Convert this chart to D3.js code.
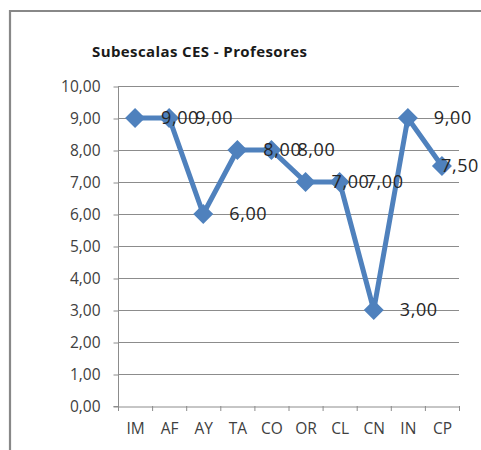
<!DOCTYPE html>
<html><head><meta charset="utf-8">
<script src="https://cdn.jsdelivr.net/npm/d3@7"></script>
<style>body{margin:0;background:#fff}svg{display:block}</style>
</head><body>
<script>
const categories = ["IM","AF","AY","TA","CO","OR","CL","CN","IN","CP"];
const values = [9, 9, 6, 8, 8, 7, 7, 3, 9, 7.5];
const yTicks = [0,1,2,3,4,5,6,7,8,9,10];
const title = "Subescalas CES - Profesores";

const W = 481, H = 450;
const svg = d3.select("body").append("svg").attr("width", W).attr("height", H);
const font = "'Open Sans', sans-serif";
const fmt = v => d3.format(".2f")(v).replace(".", ",");

// frame
svg.append("path").attr("d", `M10,${H} V11 H${W}`).attr("fill","none")
  .attr("stroke","#888").attr("stroke-width",2.2);

const x = d3.scaleBand().domain(categories).range([118, 459]).padding(0);
const y = d3.scaleLinear().domain([0, 10]).range([406, 86]);

// gridlines
svg.append("g").selectAll("line").data(yTicks.filter(t => t > 0)).join("line")
  .attr("x1", 118).attr("x2", 459)
  .attr("y1", d => y(d) + 0.5).attr("y2", d => y(d) + 0.5)
  .attr("stroke", "#8c8c8c").attr("stroke-width", 1);

// y axis
const yAxis = svg.append("g").attr("transform", "translate(118.5,0.5)")
  .call(d3.axisLeft(y).tickValues(yTicks).tickFormat(fmt).tickSize(5).tickPadding(13));
yAxis.select(".domain").attr("stroke", "#8c8c8c").attr("d", `M-5,${y(0)}H0V${y(10)}`);
yAxis.selectAll(".tick line").attr("stroke", "#8c8c8c");
yAxis.selectAll("text").attr("font-family", font).attr("font-size", 15.5).attr("fill", "#404040");

// x axis
const xAxis = svg.append("g").attr("transform", `translate(0.5,${y(0) + 0.5})`)
  .call(d3.axisBottom(x).tickSize(0).tickPadding(16));
xAxis.select(".domain").attr("stroke", "#8c8c8c");
xAxis.selectAll("text").attr("font-family", font).attr("font-size", 15.5).attr("fill", "#404040");
// category boundary ticks
svg.append("g").selectAll("line").data(d3.range(categories.length + 1)).join("line")
  .attr("x1", i => 118 + i * x.bandwidth() + 0.5).attr("x2", i => 118 + i * x.bandwidth() + 0.5)
  .attr("y1", y(0)).attr("y2", y(0) + 5).attr("stroke", "#8c8c8c");

// line
const cx = c => x(c) + x.bandwidth() / 2;
svg.append("path").datum(values)
  .attr("d", d3.line().x((d, i) => cx(categories[i])).y(d => y(d)))
  .attr("fill", "none").attr("stroke", "#4F81BD").attr("stroke-width", 5).attr("stroke-linejoin", "miter");

// markers
svg.append("g").selectAll("path").data(values).join("path")
  .attr("d", (d, i) => { const px = cx(categories[i]), py = y(d), r = 10;
    return `M${px},${py - r}L${px + r},${py}L${px},${py + r}L${px - r},${py}Z`; })
  .attr("fill", "#4F81BD");

// data labels
svg.append("g").selectAll("text").data(values).join("text")
  .attr("font-family", font).attr("font-size", 18).attr("letter-spacing", 0.6).attr("fill", "#262626")
  .attr("dy", "0.36em").attr("y", d => y(d))
  .text(d => fmt(d))
  .each(function(d, i) {
    const w = this.getComputedTextLength();
    let px = cx(categories[i]) + 26;
    if (px + w > 479) px = 479 - w;
    d3.select(this).attr("x", px);
  });

// title
svg.append("text").attr("x", 92).attr("y", 57).attr("font-family", font)
  .attr("font-weight", "bold").attr("font-size", 15).attr("fill", "#1a1a1a")
  .attr("textLength", 215).attr("lengthAdjust", "spacing").text(title);
</script>
</body></html>
